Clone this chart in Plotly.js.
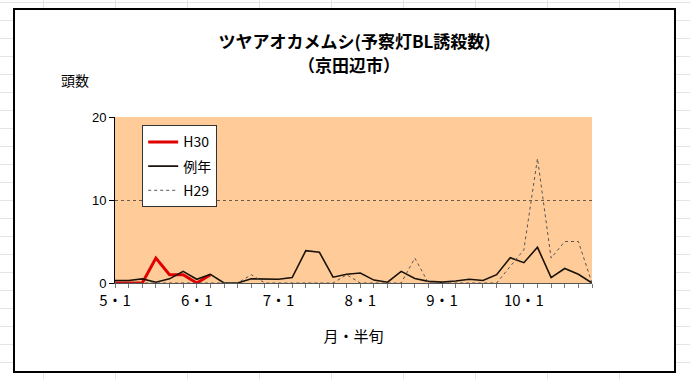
<!DOCTYPE html>
<html>
<head>
<meta charset="utf-8">
<script src="https://cdn.plot.ly/plotly-3.0.1.min.js"></script>
<style>
  html, body { margin:0; padding:0; }
  body {
    width:690px; height:379px; position:relative; overflow:hidden;
    background-color:#ffffff;
    background-image:
      linear-gradient(to right, #e4e4e4 1px, transparent 1px),
      linear-gradient(to bottom, #e4e4e4 1px, transparent 1px);
    background-size:72px 100%, 100% 18px;
    background-position:43px 0, 0 2px;
  }
  #frame {
    position:absolute; left:13px; top:8px; width:659px; height:361px;
    background:#ffffff; border:2px solid #000;
  }
  #chart { position:absolute; left:0; top:0; width:690px; height:379px; }
</style>
</head>
<body>
<div id="frame"></div>
<div id="chart"></div>
<script>
// Categories: month・half-month period (半旬)
const periods = [
  "5・1","5・2","5・3","5・4","5・5","5・6",
  "6・1","6・2","6・3","6・4","6・5","6・6",
  "7・1","7・2","7・3","7・4","7・5","7・6",
  "8・1","8・2","8・3","8・4","8・5","8・6",
  "9・1","9・2","9・3","9・4","9・5","9・6",
  "10・1","10・2","10・3","10・4","10・5","10・6"
];
// H30 (this year)
const h30 = [0, 0, 0, 3, 1, 1, 0, 1];
// 例年 (normal year)
const normal = [
  0.3, 0.3, 0.5, 0.1, 0.5, 1.4,
  0.45, 1.05, 0, 0, 0.5, 0.45,
  0.45, 0.65, 3.9, 3.7, 0.7, 1.05,
  1.2, 0.35, 0.1, 1.4, 0.55, 0.2,
  0.1, 0.25, 0.45, 0.3, 1.0, 3.05,
  2.45, 4.3, 0.65, 1.75, 1.05, 0
];
// H29 (last year)
const h29 = [
  0, 0, 0, 0, 0, 0,
  0, 0, 0, 0, 1, 0,
  0, 0, 0, 0, 0, 1,
  0, 0, 0, 0, 3, 0,
  0, 0, 0, 0, 0, 2,
  4, 15, 3, 5, 5, 0
];
// Tick labels shown at month starts
const monthLabels = ["5・1","6・1","7・1","8・1","9・1","10・1"];
const yTicks = [0, 10, 20];

const tickText = periods.map(p => monthLabels.includes(p) ? p : "");

const jp = '"Noto Sans CJK JP", "Liberation Sans", sans-serif';
const num = '"Liberation Sans", "Noto Sans CJK JP", sans-serif';

const traces = [
  { x: periods.slice(0, h30.length), y: h30, name: "H30", type: "scatter", mode: "lines",
    line: { color: "#e00000", width: 3 }, legendgroup: "a" },
  { x: periods, y: normal, name: "例年", type: "scatter", mode: "lines",
    line: { color: "#1a1208", width: 1.6 }, legendgroup: "b" },
  { x: periods, y: h29, name: "H29", type: "scatter", mode: "lines",
    line: { color: "#555555", width: 1, dash: "dot" }, legendgroup: "c" }
];

const layout = {
  width: 690, height: 379,
  margin: { l: 115, r: 98, t: 117, b: 96 },
  paper_bgcolor: "rgba(0,0,0,0)",
  plot_bgcolor: "#ffcc99",
  font: { family: jp, color: "#000" },
  title: {
    text: "<b>ツヤアオカメムシ(予察灯BL誘殺数)</b>",
    font: { family: jp, size: 17, color: "#000" },
    x: 0.514, xanchor: "center", yref: "container", y: 0.889, yanchor: "middle"
  },
  showlegend: true,
  legend: {
    x: 0.057, y: 0.95, xanchor: "left", yanchor: "top",
    bgcolor: "#ffffff", bordercolor: "#333333", borderwidth: 1,
    font: { family: jp, size: 14, color: "#000" },
    tracegroupgap: 3, itemwidth: 30
  },
  xaxis: {
    type: "category",
    range: [0, periods.length - 1],
    tickmode: "array", tickvals: periods, ticktext: tickText,
    ticks: "outside", ticklen: 4, tickcolor: "#777", tickwidth: 1,
    showline: true, linecolor: "#555", linewidth: 1,
    showgrid: false, zeroline: false,
    tickfont: { family: jp, size: 15, color: "#000" },
    title: { text: "月・半旬", font: { family: jp, size: 15, color: "#000" }, standoff: 22 }
  },
  yaxis: {
    range: [0, 20],
    tickmode: "array", tickvals: yTicks,
    ticks: "outside", ticklen: 5, tickcolor: "#000", tickwidth: 1,
    showline: true, linecolor: "#000", linewidth: 1,
    showgrid: false, zeroline: false,
    tickfont: { family: num, size: 13, color: "#000" },
    minor: { tickmode: "array", tickvals: [10], showgrid: true, gridcolor: "#6b5a48", griddash: "dot", gridwidth: 1, ticks: "" }
  },
  annotations: [
    { text: "<b>（京田辺市）</b>", xref: "paper", yref: "paper", x: 0.49, y: 1.319,
      xanchor: "center", yanchor: "middle", showarrow: false,
      font: { family: jp, size: 17, color: "#000" } },
    { text: "頭数", xref: "paper", yref: "paper", x: -0.084, y: 1.223,
      xanchor: "center", yanchor: "middle", showarrow: false,
      font: { family: jp, size: 14, color: "#000" } }
  ]
};

Plotly.newPlot("chart", traces, layout, { staticPlot: true, displayModeBar: false });
</script>
</body>
</html>
